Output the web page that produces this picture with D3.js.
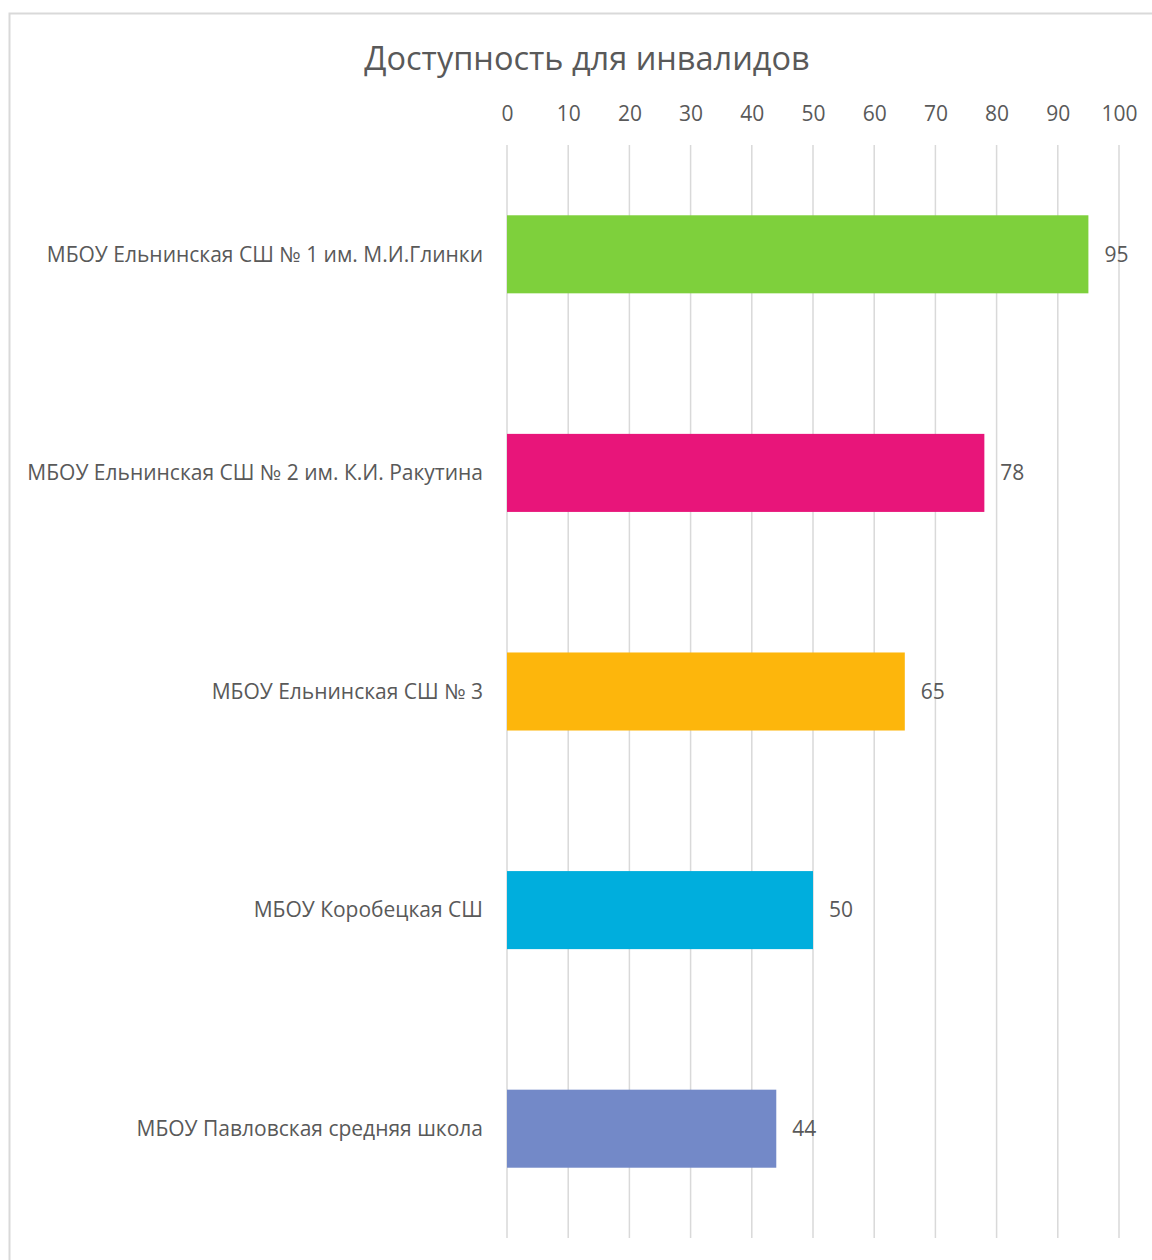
<!DOCTYPE html>
<html>
<head>
<meta charset="utf-8">
<script src="https://cdn.jsdelivr.net/npm/d3@7"></script>
<style>
body { margin: 0; background: #fff; }
text { font-family: "Open Sans", "Noto Sans", sans-serif; fill: #595959; }
</style>
</head>
<body>
<svg width="1152" height="1260"></svg>
<script>
var schools = [
  "МБОУ Ельнинская СШ № 1 им. М.И.Глинки",
  "МБОУ Ельнинская СШ № 2 им. К.И. Ракутина",
  "МБОУ Ельнинская СШ № 3",
  "МБОУ Коробецкая СШ",
  "МБОУ Павловская средняя школа"
];
var values = [95, 78, 65, 50, 44];
var barColors = ["#7ED03C", "#E8157A", "#FDB60C", "#00AEDD", "#7389C8"];
var tickValues = [0, 10, 20, 30, 40, 50, 60, 70, 80, 90, 100];
var chartTitle = "Доступность для инвалидов";

var svg = d3.select("svg");

// outer frame (runs off the right and bottom edge)
svg.append("rect")
  .attr("x", 9.5).attr("y", 13.5)
  .attr("width", 1200).attr("height", 1300)
  .attr("fill", "none").attr("stroke", "#d9d9d9").attr("stroke-width", 2);

var plotTop = 145, plotBottom = 1238;

var x = d3.scaleLinear().domain([0, 100]).range([507, 1119]);
var y = d3.scaleBand().domain(schools).range([plotTop, plotBottom]).paddingInner(0.643).paddingOuter(0.3215);

svg.append("text")
  .attr("x", 587).attr("y", 70)
  .attr("text-anchor", "middle")
  .style("font-size", "32.5px")
  .text(chartTitle);

// gridlines
svg.append("g").selectAll("line")
  .data(tickValues)
  .enter().append("line")
  .attr("x1", function(d) { return x(d); })
  .attr("x2", function(d) { return x(d); })
  .attr("y1", plotTop).attr("y2", plotBottom)
  .attr("stroke", "#d9d9d9").attr("stroke-width", 1.5);

// top axis
var axis = d3.axisTop(x).tickValues(tickValues).tickSize(0).tickPadding(0);
var ag = svg.append("g").attr("transform", "translate(0,121)").call(axis);
ag.select(".domain").remove();
ag.selectAll("text")
  .attr("dy", 0)
  .style("font-size", "21px")
  .style("font-family", "'Open Sans', sans-serif")
  .attr("fill", "#595959");

// bars
svg.append("g").selectAll("rect")
  .data(values)
  .enter().append("rect")
  .attr("x", x(0))
  .attr("y", function(d, i) { return y(schools[i]); })
  .attr("width", function(d) { return x(d) - x(0); })
  .attr("height", y.bandwidth())
  .attr("fill", function(d, i) { return barColors[i]; });

// value labels
svg.append("g").selectAll("text")
  .data(values)
  .enter().append("text")
  .attr("x", function(d) { return x(d) + 16; })
  .attr("y", function(d, i) { return y(schools[i]) + y.bandwidth() / 2; })
  .attr("dy", "0.35em")
  .style("font-size", "21px")
  .text(function(d) { return d; });

// category labels
svg.append("g").selectAll("text")
  .data(schools)
  .enter().append("text")
  .attr("x", 483)
  .attr("y", function(d) { return y(d) + y.bandwidth() / 2; })
  .attr("dy", "0.35em")
  .attr("text-anchor", "end")
  .style("font-size", "21px")
  .text(function(d) { return d; });
</script>
</body>
</html>
